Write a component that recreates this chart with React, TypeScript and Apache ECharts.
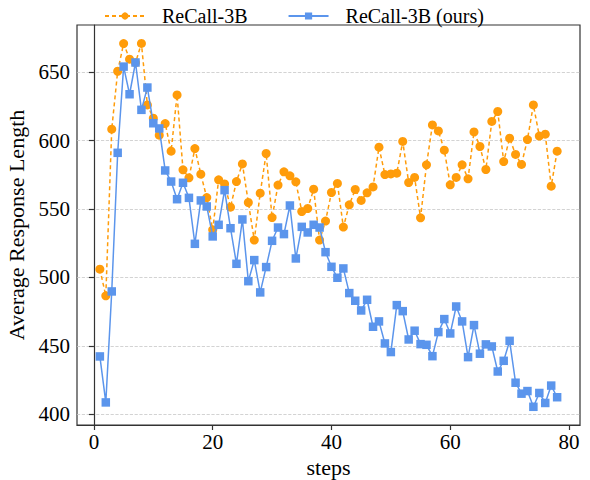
import React, { useEffect, useRef } from 'react';
import * as echarts from 'echarts';

const steps = [
  1, 2, 3, 4, 5, 6, 7, 8, 9, 10, 11, 12, 13, 14, 15, 16, 17, 18, 19, 20,
  21, 22, 23, 24, 25, 26, 27, 28, 29, 30, 31, 32, 33, 34, 35, 36, 37, 38, 39, 40,
  41, 42, 43, 44, 45, 46, 47, 48, 49, 50, 51, 52, 53, 54, 55, 56, 57, 58, 59, 60,
  61, 62, 63, 64, 65, 66, 67, 68, 69, 70, 71, 72, 73, 74, 75, 76, 77, 78,
];

const recallBaseline = [
  506.1, 486.6, 608.4, 650.7, 670.9, 659.5, 657.0, 671.0, 626.1, 616.4,
  604.0, 612.5, 592.3, 633.4, 578.7, 572.8, 594.2, 575.5, 558.4, 534.8,
  571.4, 568.4, 551.4, 570.1, 583.0, 554.8, 527.3, 561.6, 590.6, 543.8,
  567.5, 577.2, 574.3, 569.9, 548.2, 550.4, 564.5, 527.3, 541.2, 562.1,
  568.7, 536.8, 553.1, 564.3, 556.3, 561.9, 566.2, 595.2, 575.2, 575.7,
  576.2, 599.4, 569.4, 573.1, 543.6, 582.3, 611.5, 607.1, 593.0, 567.7,
  573.1, 582.3, 572.1, 606.4, 595.7, 578.9, 614.0, 621.3, 584.7, 601.8,
  589.9, 582.6, 600.8, 626.1, 603.3, 604.7, 566.7, 592.3,
];

const recallOurs = [
  442.3, 408.7, 489.8, 591.1, 654.1, 633.9, 657.1, 622.5, 638.8, 612.7,
  608.9, 578.2, 570.1, 557.2, 569.2, 558.2, 524.6, 556.3, 551.9, 530.0,
  538.5, 563.8, 536.0, 510.0, 542.4, 497.3, 512.7, 489.1, 507.6, 526.8,
  536.5, 531.7, 552.6, 513.9, 537.0, 532.9, 538.5, 536.5, 518.5, 507.8,
  499.8, 506.6, 488.6, 483.0, 475.9, 483.7, 464.0, 467.9, 451.8, 445.5,
  479.8, 475.4, 454.7, 461.1, 451.3, 450.8, 442.5, 460.1, 469.6, 459.1,
  478.8, 467.9, 441.8, 465.2, 444.3, 451.1, 449.6, 431.3, 439.1, 453.7,
  423.1, 415.1, 417.0, 405.5, 415.6, 408.3, 421.0, 412.5,
];

const xTicks = [0, 20, 40, 60, 80];
const yTicks = [400, 450, 500, 550, 600, 650];
const seriesNames = ['ReCall-3B', 'ReCall-3B (ours)'];

const ORANGE = '#FF9C0A';
const BLUE = '#5B95EC';
const FONT = "'Liberation Serif', 'DejaVu Serif', serif";

export default function App() {
  const ref = useRef<HTMLDivElement>(null);
  useEffect(() => {
    if (!ref.current) return;
    const chart = echarts.init(ref.current, null, { renderer: 'svg' });
    chart.setOption({
      animation: false,
      backgroundColor: '#fff',
      grid: {
        left: 77, right: 10, top: 25, bottom: 55,
        show: true, borderColor: '#333', borderWidth: 1.2,
        outerBoundsMode: 'none',
      },
      legend: {
        top: 1, left: 99, itemWidth: 40, itemHeight: 9, itemGap: 40,
        data: seriesNames,
        textStyle: { fontSize: 20, fontFamily: FONT, color: '#000', padding: [0, 0, 0, 12] },
      },
      xAxis: {
        type: 'value', min: -2.85, max: 81.85,
        name: 'steps', nameLocation: 'middle', nameGap: 29,
        nameTextStyle: { fontSize: 22, fontFamily: FONT, color: '#000' },
        axisLine: { show: true, lineStyle: { color: '#333', width: 1.2 } },
        axisTick: { show: true, customValues: xTicks, length: 5, lineStyle: { color: '#333', width: 1.2 } },
        axisLabel: { customValues: xTicks, fontSize: 21, fontFamily: FONT, color: '#000', margin: 6 },
        splitLine: { show: false },
      },
      yAxis: {
        type: 'value', min: 392.2, max: 684.5,
        name: 'Average Response Length', nameLocation: 'middle', nameGap: 46,
        nameTextStyle: { fontSize: 22, fontFamily: FONT, color: '#000' },
        axisLine: { show: true, lineStyle: { color: '#333', width: 1.2 } },
        axisTick: { show: true, customValues: yTicks, length: 5, lineStyle: { color: '#333', width: 1.2 } },
        axisLabel: { customValues: yTicks, fontSize: 21, fontFamily: FONT, color: '#000', margin: 7 },
        splitLine: { show: true, lineStyle: { color: '#c8c8c8', type: 'dashed', width: 0.8 } },
      },
      series: [
        {
          name: seriesNames[0], type: 'line',
          data: steps.map((s, i) => [s, recallBaseline[i]]),
          symbol: 'circle', symbolSize: 9,
          lineStyle: { color: ORANGE, width: 1.5, type: [4, 3] },
          itemStyle: { color: ORANGE },
          z: 2,
        },
        {
          name: seriesNames[1], type: 'line',
          data: steps.map((s, i) => [s, recallOurs[i]]),
          symbol: 'rect', symbolSize: 8.5,
          lineStyle: { color: BLUE, width: 1.5 },
          itemStyle: { color: BLUE },
          z: 3,
        },
      ],
    });
    return () => chart.dispose();
  }, []);
  return (
    <div style={{ position: 'absolute', left: 0, top: 0, width: 590, height: 480, background: '#fff' }}>
      <div ref={ref} style={{ width: 590, height: 480 }} />
    </div>
  );
}
